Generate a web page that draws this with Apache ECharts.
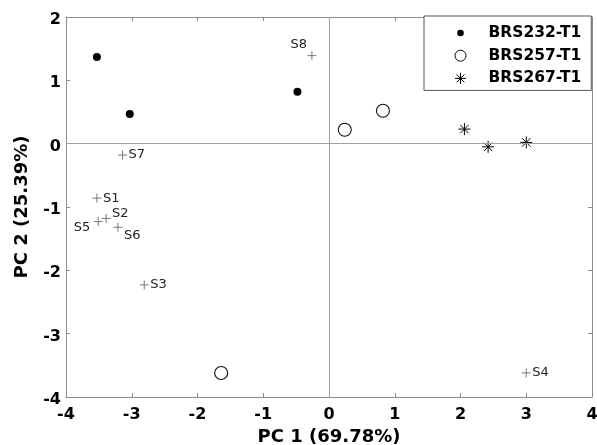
<!DOCTYPE html>
<html><head><meta charset="utf-8">
<script src="https://cdn.jsdelivr.net/npm/echarts@6/dist/echarts.min.js"></script>
<style>html,body{margin:0;padding:0;background:#fff}#c{width:597px;height:445px}</style>
</head><body><div id="c"></div>
<script>
// ---- data ----
const seriesNames = ['BRS232-T1', 'BRS257-T1', 'BRS267-T1'];
const brs232X = [-3.53, -3.03, -0.48];
const brs232Y = [1.37, 0.47, 0.82];
const brs257X = [0.24, 0.82, -1.64];
const brs257Y = [0.22, 0.52, -3.62];
const brs267X = [2.06, 2.42, 3.0];
const brs267Y = [0.23, -0.05, 0.02];
const sampleNames = ['S1', 'S2', 'S3', 'S4', 'S5', 'S6', 'S7', 'S8'];
const sampleX = [-3.53, -3.39, -2.81, 3.0, -3.51, -3.21, -3.14, -0.26];
const sampleY = [-0.86, -1.18, -2.23, -3.62, -1.23, -1.32, -0.18, 1.39];
const xTicks = [-4, -3, -2, -1, 0, 1, 2, 3, 4];
const yTicks = [-4, -3, -2, -1, 0, 1, 2];
const xTitle = 'PC 1 (69.78%)';
const yTitle = 'PC 2 (25.39%)';

// ---- styling ----
const FONT = 'DejaVu Sans';
const frame = '#8c8c8c';
const ASTER = 'path://M0,-1L0,1M-1,0L1,0M-0.707,-0.707L0.707,0.707M-0.707,0.707L0.707,-0.707';
const PLUS = 'path://M0,-1L0,1M-1,0L1,0';
const labelPlace = {
  S2: {position: 'right', offset: [0, -5]},
  S5: {position: 'left', offset: [0, 6], distance: 3},
  S6: {position: 'right', offset: [0, 8]},
  S8: {position: 'left', offset: [0, -11], distance: 0}
};
const zip = (xs, ys) => xs.map((x, i) => [x, ys[i]]);

function axisBase(min, max, position, showLabel) {
  return {
    type: 'value', min: min, max: max, interval: 1, position: position,
    axisLine: {show: true, onZero: false, lineStyle: {color: frame, width: 1}},
    axisTick: {show: true, inside: true, length: 4, lineStyle: {color: frame}},
    axisLabel: {show: showLabel, color: '#000', fontWeight: 'bold', fontSize: 16, fontFamily: FONT},
    splitLine: {show: false}
  };
}
const xb = axisBase(xTicks[0], xTicks[xTicks.length - 1], 'bottom', true);
Object.assign(xb, {name: xTitle, nameLocation: 'middle', nameGap: 31,
  nameTextStyle: {color: '#000', fontWeight: 'bold', fontSize: 18, fontFamily: FONT}});
xb.axisLabel.margin = 10;
const xt = axisBase(xTicks[0], xTicks[xTicks.length - 1], 'top', false);
const yl = axisBase(yTicks[0], yTicks[yTicks.length - 1], 'left', true);
Object.assign(yl, {name: yTitle, nameLocation: 'middle', nameGap: 35,
  nameTextStyle: {color: '#000', fontWeight: 'bold', fontSize: 18, fontFamily: FONT}});
yl.axisLabel.margin = 5;
yl.axisLabel.verticalAlign = 'top';
yl.axisLabel.lineHeight = 6;
const yr = axisBase(yTicks[0], yTicks[yTicks.length - 1], 'right', false);

const chart = echarts.init(document.getElementById('c'), null, {renderer: 'canvas'});
chart.setOption({
  animation: false,
  backgroundColor: '#fff',
  grid: {left: 66, right: 5, top: 17, bottom: 48, containLabel: false, outerBoundsMode: 'none'},
  xAxis: [xb, xt],
  yAxis: [yl, yr],
  legend: {
    orient: 'vertical', left: 424, top: 16,
    padding: [8, 10, 3, 29],
    itemWidth: 46, itemHeight: 14, itemGap: 4.7,
    borderColor: '#555', borderWidth: 1, backgroundColor: '#fff',
    textStyle: {color: '#000', fontWeight: 'bold', fontSize: 15.5, fontFamily: FONT, lineHeight: 18},
    data: [
      {name: seriesNames[0], icon: 'path://M-7,-7M7,7M-3.3,0A3.3,3.3,0,1,1,3.3,0A3.3,3.3,0,1,1,-3.3,0Z',
        itemStyle: {color: '#000', borderWidth: 0, opacity: 1}},
      {name: seriesNames[1], icon: 'path://M-7,-7M7,7M-5.5,0A5.5,5.5,0,1,1,5.5,0A5.5,5.5,0,1,1,-5.5,0Z',
        itemStyle: {color: '#fff', borderColor: '#000', borderWidth: 1, opacity: 1}},
      {name: seriesNames[2], icon: 'path://M-7,-7M7,7M0,-5.5L0,5.5M-5.5,0L5.5,0M-3.9,-3.9L3.9,3.9M-3.9,3.9L3.9,-3.9',
        itemStyle: {color: 'rgba(0,0,0,0)', borderColor: '#000', borderWidth: 1, opacity: 1}}
    ]
  },
  series: [
    {
      name: 'samples', type: 'scatter', symbol: PLUS, symbolSize: 9, z: 3,
      itemStyle: {color: 'rgba(0,0,0,0)', borderColor: '#777', borderWidth: 1, opacity: 1},
      label: {show: true, position: 'right', distance: 1, formatter: '{b}',
        color: '#222', fontSize: 13, fontFamily: FONT},
      data: sampleNames.map((n, i) => Object.assign({name: n, value: [sampleX[i], sampleY[i]]},
        labelPlace[n] ? {label: labelPlace[n]} : {})),
      markLine: {
        silent: true, symbol: 'none', animation: false,
        label: {show: false},
        lineStyle: {color: '#a0a0a0', width: 1, type: 'solid', opacity: 1},
        data: [{xAxis: 0}, {yAxis: 0}]
      }
    },
    {
      name: seriesNames[0], type: 'scatter', symbol: 'circle', symbolSize: 8, z: 4,
      itemStyle: {color: '#000', opacity: 1},
      data: zip(brs232X, brs232Y)
    },
    {
      name: seriesNames[1], type: 'scatter', symbol: 'circle', symbolSize: 13, z: 4,
      itemStyle: {color: '#fff', borderColor: '#111', borderWidth: 1.1, opacity: 1},
      data: zip(brs257X, brs257Y)
    },
    {
      name: seriesNames[2], type: 'scatter', symbol: ASTER, symbolSize: 12, z: 4,
      itemStyle: {color: 'rgba(0,0,0,0)', borderColor: '#000', borderWidth: 1, opacity: 1},
      data: zip(brs267X, brs267Y)
    }
  ]
});
</script>
</body></html>
